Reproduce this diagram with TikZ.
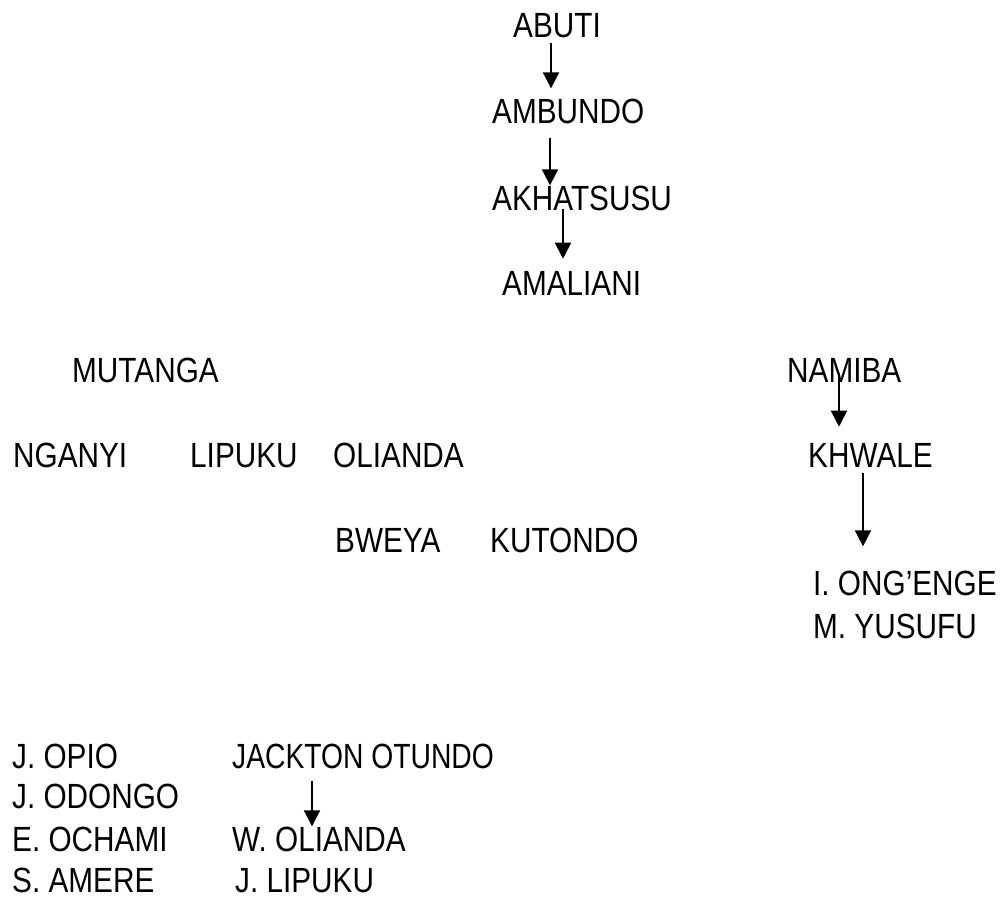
\documentclass[tikz,border=0pt]{standalone}
\usepackage{fontspec}
\setmainfont[FakeStretch=0.85]{Liberation Sans}
\usetikzlibrary{arrows.meta, positioning}

\begin{document}
\begin{tikzpicture}[
  x=1pt, y=-1pt,
  person/.style={anchor=base west, inner sep=0pt, font=\fontsize{35}{42}\selectfont},
  arr/.style={-{Triangle[length=16pt, width=16pt]}, line width=1.8pt}
]
\useasboundingbox (0,0) rectangle (1005,897);

\node[person] (abuti) at (513,37) {ABUTI};
\node[person] (ambundo) at (492,123) {AMBUNDO};
\node[person] (akhatsusu) at (492,210) {AKHATSUSU};
\node[person] (amaliani) at (502,295) {AMALIANI};

\node[person] (mutanga) at (72,382) {MUTANGA};
\node[person] (nganyi) at (13,467) {NGANYI};
\node[person] (lipuku) at (190,467) {LIPUKU};
\node[person] (olianda) at (333,467) {OLIANDA};
\node[person] (bweya) at (335,552) {BWEYA};
\node[person] (kutondo) at (490,552) {KUTONDO};

\node[person] (namiba) at (787,382) {NAMIBA};
\node[person] (khwale) at (808,467) {KHWALE};
\node[person] (ongenge) at (813,595) {I. ONG’ENGE};
\node[person] (yusufu) at (813,638) {M. YUSUFU};

\node[person] (opio) at (12,768) {J. OPIO};
\node[person] (odongo) at (12,808) {J. ODONGO};
\node[person] (ochami) at (12,851) {E. OCHAMI};
\node[person] (amere) at (12,892) {S. AMERE};
\node[person, xscale=0.95] (jackton) at (232,768) {JACKTON OTUNDO};
\node[person] (wolianda) at (232,851) {W. OLIANDA};
\node[person] (jlipuku) at (235,892) {J. LIPUKU};

\draw[arr, shorten <=5pt, shorten >=10pt] ([xshift=38pt]abuti.south west) -- ([xshift=38pt]abuti.south west |- ambundo.north);
\draw[arr, shorten <=14pt] ([xshift=58pt]ambundo.south west) -- ([xshift=58pt]ambundo.south west |- akhatsusu.north);
\draw[arr, shorten <=-2pt, shorten >=12pt] ([xshift=71pt]akhatsusu.south west) -- ([xshift=71pt]akhatsusu.south west |- amaliani.north);
\draw[arr, shorten <=-9pt, shorten >=16pt] ([xshift=52pt]namiba.south west) -- ([xshift=52pt]namiba.south west |- khwale.north);
\draw[arr, shorten <=6pt, shorten >=24pt] ([xshift=55pt]khwale.south west) -- ([xshift=55pt]khwale.south west |- ongenge.north);
\draw[arr, shorten <=12pt] ([xshift=80pt]jackton.south west) -- ([xshift=80pt]jackton.south west |- wolianda.north);
\end{tikzpicture}
\end{document}
